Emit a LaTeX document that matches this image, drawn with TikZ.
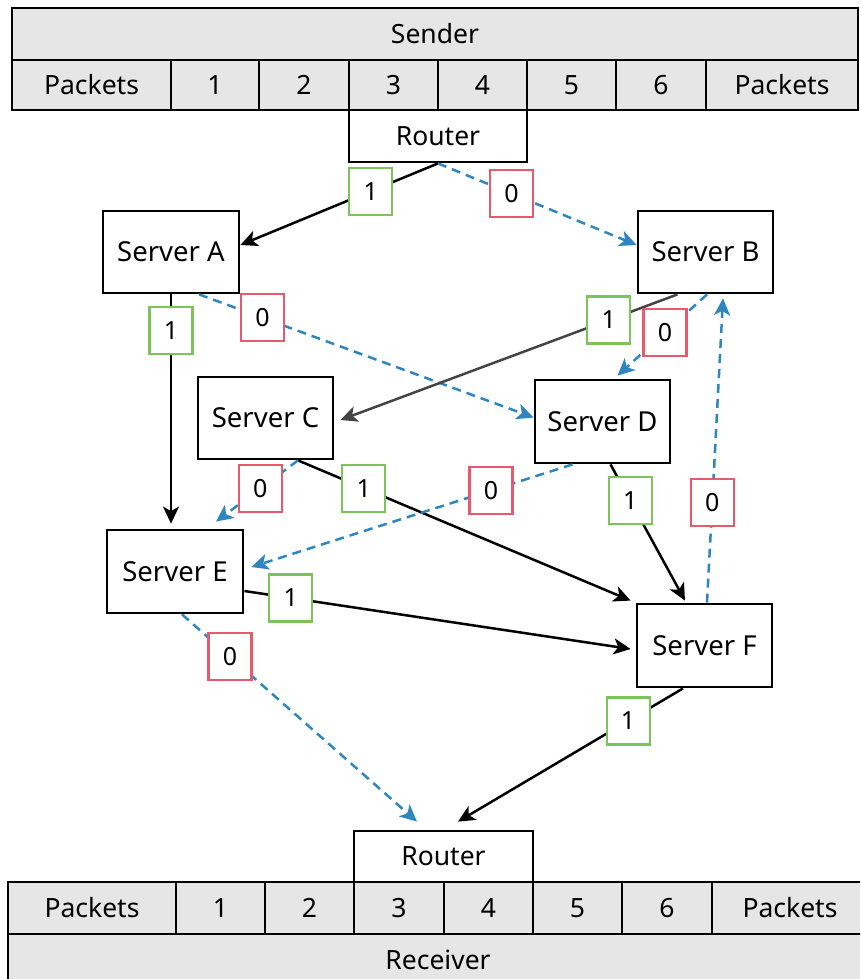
\documentclass[tikz,border=0pt]{standalone}
\usepackage{fontspec}
\setmainfont{Noto Sans}
\usetikzlibrary{arrows.meta}
\definecolor{barfill}{HTML}{E6E6E6}
\definecolor{lblue}{HTML}{2E86C1}
\definecolor{lgreen}{HTML}{7CC35A}
\definecolor{lred}{HTML}{E9596E}
\definecolor{dgray}{HTML}{444444}
\tikzset{
  bar/.style={draw=black, fill=barfill, line width=2.8pt, inner sep=0pt, font=\fontsize{26.5}{30}\selectfont},
  router/.style={draw=black, fill=white, line width=2.8pt, inner sep=0pt, minimum height=52pt, font=\fontsize{26.5}{30}\selectfont},
  server/.style={draw=black, fill=white, line width=2.8pt, inner sep=0pt, minimum width=136pt, minimum height=82pt, font=\fontsize{27.5}{32}\selectfont},
  lab/.style={solid, fill=white, line width=2.2pt, inner sep=0pt, minimum width=43pt, minimum height=47pt, font=\fontsize{25}{30}\selectfont},
  one/.style={lab, draw=lgreen},
  zero/.style={lab, draw=lred},
  tip/.style={-{Stealth[length=17pt,width=16pt,inset=4.5pt]}},
  solidarrow/.style={line width=2.5pt, draw=black, tip},
  grayarrow/.style={line width=2.5pt, draw=dgray, tip},
  dasharrow/.style={line width=2.5pt, draw=lblue, dash pattern=on 9pt off 6pt, tip},
}
\begin{document}
\begin{tikzpicture}[x=1pt,y=-1pt]
\useasboundingbox (0,0) rectangle (860,979);
\clip (0,0) rectangle (860,979);
% Sender
\node[bar, minimum width=846pt, minimum height=52pt] (snd) at (435,34) {Sender};
\node[bar, minimum width=159pt, minimum height=50pt] (sp0) at (91.5,85) {Packets};
\node[bar, minimum width=88pt, minimum height=50pt] (sp1) at (215,85) {1};
\node[bar, minimum width=90pt, minimum height=50pt] (sp2) at (304,85) {2};
\node[bar, minimum width=89pt, minimum height=50pt] (sp3) at (393.5,85) {3};
\node[bar, minimum width=89pt, minimum height=50pt] (sp4) at (482.5,85) {4};
\node[bar, minimum width=89pt, minimum height=50pt] (sp5) at (571.5,85) {5};
\node[bar, minimum width=90pt, minimum height=50pt] (sp6) at (661,85) {6};
\node[bar, minimum width=152pt, minimum height=50pt] (sp7) at (782,85) {Packets};
\node[router, minimum width=178pt] (rt) at (438,136) {Router};
% Receiver
\node[bar, minimum width=860pt, minimum height=52pt] (rcv) at (438,960) {Receiver};
\node[bar, minimum width=168pt, minimum height=52pt] (rp0) at (92,908) {Packets};
\node[bar, minimum width=89pt, minimum height=52pt] (rp1) at (220.5,908) {1};
\node[bar, minimum width=89pt, minimum height=52pt] (rp2) at (309.5,908) {2};
\node[bar, minimum width=90pt, minimum height=52pt] (rp3) at (399,908) {3};
\node[bar, minimum width=89pt, minimum height=52pt] (rp4) at (488.5,908) {4};
\node[bar, minimum width=89pt, minimum height=52pt] (rp5) at (577.5,908) {5};
\node[bar, minimum width=90pt, minimum height=52pt] (rp6) at (667,908) {6};
\node[bar, minimum width=156pt, minimum height=52pt] (rp7) at (790,908) {Packets};
\node[router, minimum width=179pt, minimum height=51pt] (rb) at (443.5,856.5) {Router};
% Servers
\node[server] (A) at (171,252) {Server A};
\node[server, minimum width=135pt] (B) at (705.5,252) {Server B};
\node[server, minimum width=135pt] (C) at (265.5,418) {Server C};
\node[server, minimum width=135pt, minimum height=83pt] (D) at (602.5,421.5) {Server D};
\node[server, minimum height=83pt] (E) at (175,571.5) {Server E};
\node[server, minimum width=135pt, minimum height=83pt] (F) at (704.5,645.5) {Server F};
% Edges
\draw[solidarrow] (rt.south) -- node[one, pos=0.34] (l1) {1} ([yshift=7pt]A.east);
\draw[dasharrow] (rt.south) -- node[zero, pos=0.37] (l2) {0} ([yshift=7pt]B.west);
\draw[solidarrow] (A.south) -- node[one, pos=0.156] (l3) {1} ([xshift=-4pt,yshift=5pt]E.north);
\draw[dasharrow] ([xshift=28pt]A.south) -- node[zero, pos=0.19] (l4) {0} ([yshift=4pt]D.west);
\draw[grayarrow] ([xshift=-28pt]B.south) -- node[one, pos=0.204] (l5) {1} ([xshift=6pt,yshift=-2pt]C.east);
\draw[dasharrow] ([xshift=1.5pt]B.south) -- node[zero, pos=0.47] (l6) {0} ([xshift=15pt,yshift=3pt]D.north);
\draw[dasharrow] ([xshift=2.5pt]F.north) -- node[zero, pos=0.33] (l7) {0} ([xshift=17.5pt,yshift=-4pt]B.south);
\draw[solidarrow] ([xshift=32.5pt]C.south) -- node[one, pos=0.198] (l8) {1} ([xshift=-5pt,yshift=2pt]F.north west);
\draw[dasharrow] ([xshift=32.5pt]C.south) -- node[zero, pos=0.46] (l9) {0} ([xshift=41pt,yshift=7pt]E.north);
\draw[dasharrow] ([xshift=-30pt]D.south) -- node[zero, pos=0.254] (l10) {0} ([xshift=7pt,yshift=4.5pt]E.east);
\draw[solidarrow] ([xshift=8pt]D.south) -- node[one, pos=0.266] (l11) {1} ([xshift=-19.5pt,yshift=2pt]F.north);
\draw[solidarrow] ([yshift=-19.5pt]E.east) -- node[one, pos=0.12] (l12) {1} ([xshift=-5pt,yshift=-3.5pt]F.west);
\draw[dasharrow] ([xshift=7pt]E.south) -- node[zero, pos=0.204] (l13) {0} ([xshift=-26.5pt,yshift=8pt]rb.north);
\draw[solidarrow] ([xshift=-21.5pt]F.south) -- node[one, pos=0.244] (l14) {1} ([xshift=14.5pt,yshift=8pt]rb.north);
\end{tikzpicture}
\end{document}
